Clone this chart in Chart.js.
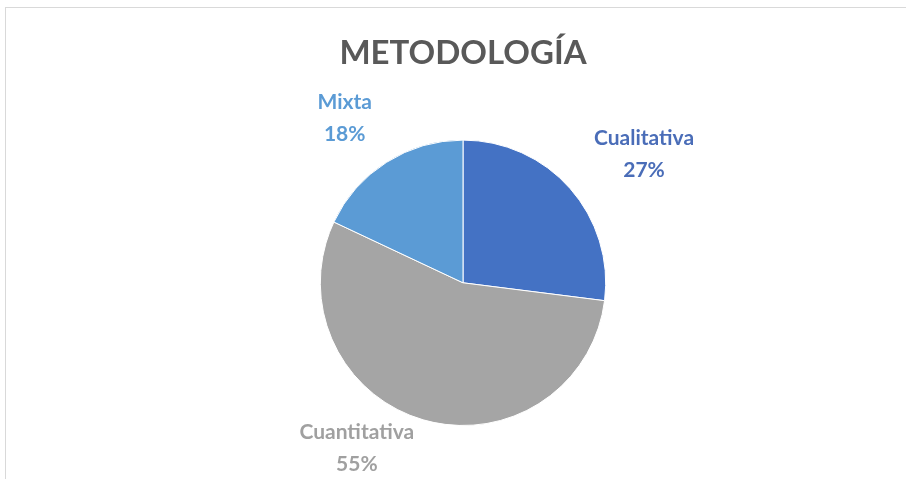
<!DOCTYPE html>
<html>
<head>
<meta charset="utf-8">
<script src="https://cdn.jsdelivr.net/npm/chart.js@4.4.0/dist/chart.umd.min.js"></script>
<style>
  html, body { margin: 0; padding: 0; background: #fff; overflow: hidden; }
  #frame { position: absolute; left: 5px; top: 7px; width: 1000px; height: 1000px; border: 1px solid #d9d9d9; }
  #wrap { position: absolute; left: 0; top: 0; width: 906px; height: 479px; }
</style>
</head>
<body>
<div id="frame"></div>
<div id="wrap"><canvas id="c" width="906" height="479"></canvas></div>
<script>
const categories = ["Cualitativa", "Cuantitativa", "Mixta"];
const percentages = [27, 55, 18];
const sliceColors = ["#4472C4", "#A5A5A5", "#5B9BD5"];
const labelColors = ["#4A6DB8", "#A0A0A0", "#5B9BD5"];
const chartTitle = "METODOLOGÍA";

const labelPlugin = {
  id: 'outsideLabels',
  afterDatasetsDraw(chart, args, opts) {
    const ctx = chart.ctx;
    const meta = chart.getDatasetMeta(0);
    ctx.save();
    ctx.font = opts.font;
    ctx.textAlign = 'center';
    ctx.textBaseline = 'middle';
    meta.data.forEach((arc, i) => {
      const p = arc.getProps(['x', 'y', 'startAngle', 'endAngle', 'outerRadius'], true);
      const mid = (p.startAngle + p.endAngle) / 2;
      const dist = p.outerRadius + opts.distance[i];
      const cx = p.x + Math.cos(mid) * dist + opts.shiftX[i];
      const cy = p.y + Math.sin(mid) * dist + opts.shiftY[i];
      ctx.fillStyle = labelColors[i];
      ctx.fillText(categories[i], cx, cy - 16);
      ctx.fillText(percentages[i] + '%', cx, cy + 16);
    });
    ctx.restore();
  }
};

new Chart(document.getElementById('c'), {
  type: 'pie',
  data: {
    labels: categories,
    datasets: [{
      data: percentages,
      backgroundColor: sliceColors,
      borderColor: '#ffffff',
      borderWidth: 1
    }]
  },
  options: {
    responsive: false,
    animation: false,
    layout: { padding: { left: 20, right: 0, top: 0, bottom: 53 } },
    plugins: {
      legend: { display: false },
      tooltip: { enabled: false },
      title: {
        display: true,
        text: chartTitle,
        color: '#595959',
        font: { family: 'Lato', size: 33, weight: 'bold', lineHeight: 1.2 },
        padding: { top: 34, bottom: 66 }
      },
      outsideLabels: {
        font: 'bold 21px Lato',
        distance: [52, 30, 52],
        shiftX: [35, -58, -14],
        shiftY: [0, 0, 0]
      }
    }
  },
  plugins: [labelPlugin]
});
</script>
</body>
</html>
